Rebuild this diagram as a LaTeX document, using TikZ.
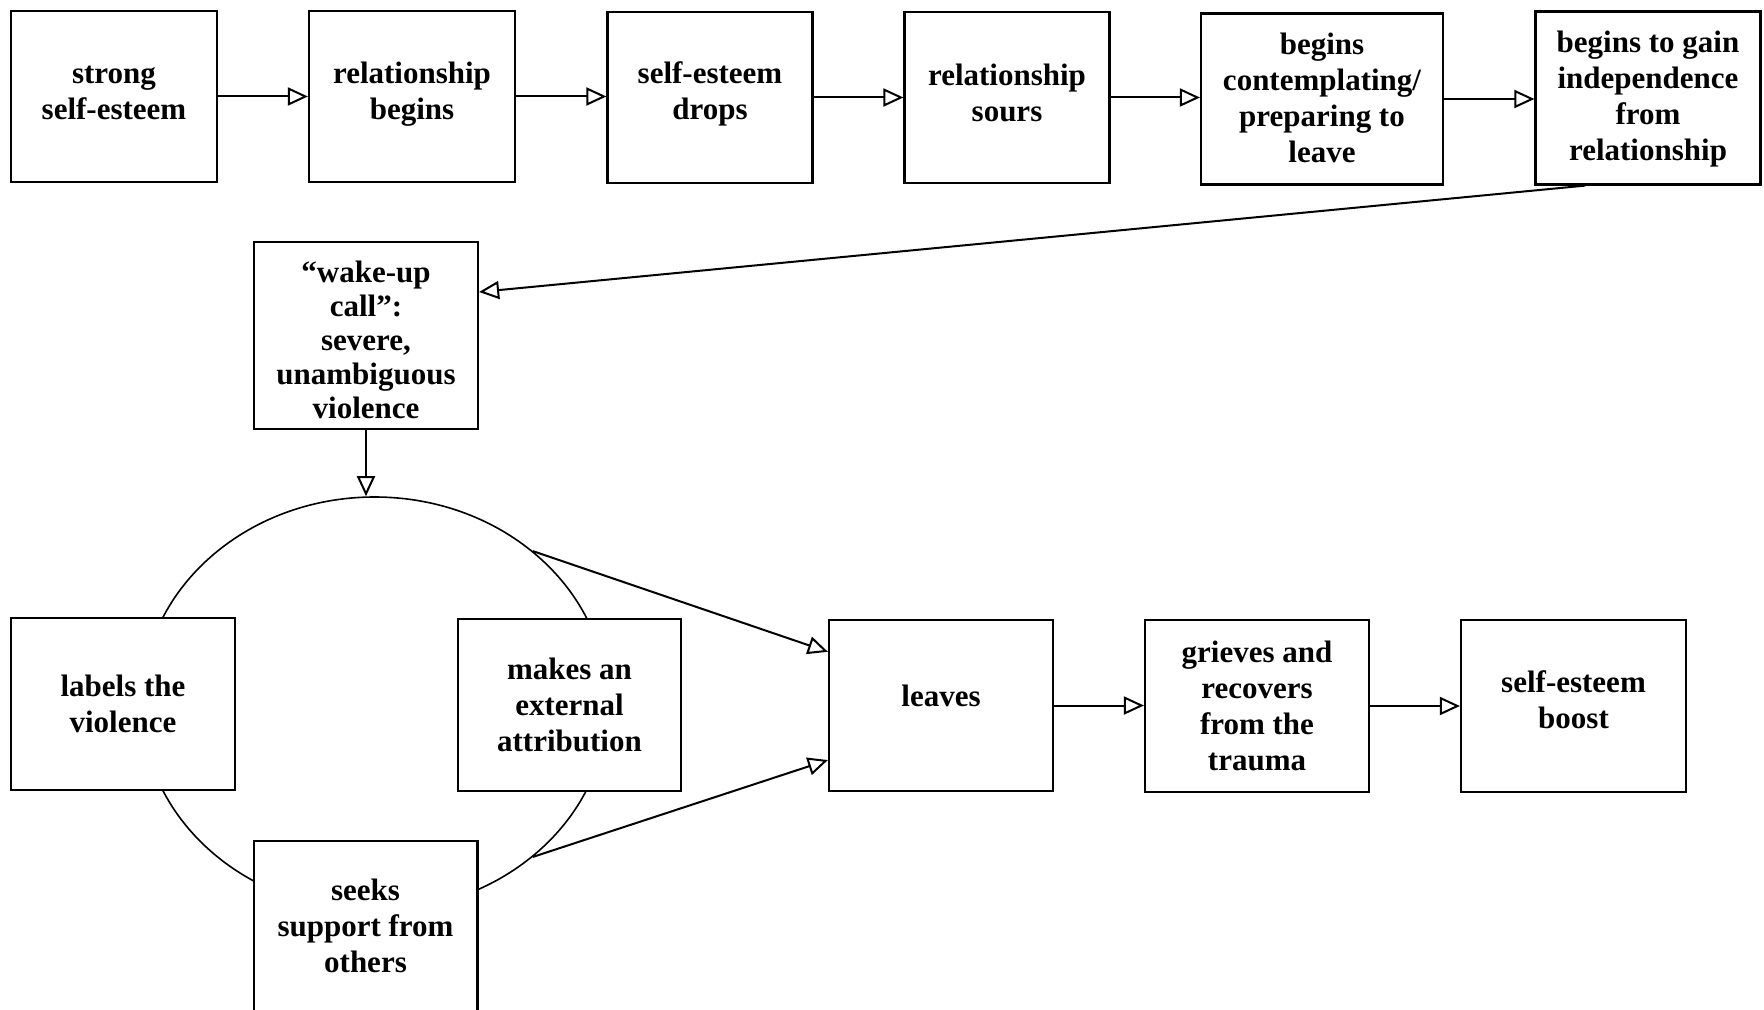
\documentclass[tikz,border=0pt]{standalone}
\usepackage{fontspec}
\setmainfont{Liberation Serif}
\usetikzlibrary{arrows.meta,shapes.geometric,calc}
\begin{document}
\begin{tikzpicture}[x=0.5pt,y=-0.5pt,
  box/.style={draw, line width=1.1pt, fill=white, inner sep=0pt},
  txt/.style={align=center, inner sep=0pt, font=\bfseries\fontsize{15.5}{18}\selectfont},
  wtxt/.style={align=center, inner sep=0pt, font=\bfseries\fontsize{15.5}{17}\selectfont},
  arr/.style={line width=1pt, -{Triangle[open, length=10pt, width=9pt, line width=1pt]}},
  oval/.style={draw, ellipse, line width=0.8pt, inner sep=0pt}]
\useasboundingbox (0,0) rectangle (1764,1010);
% top row
\node[box, minimum width=103pt, minimum height=85.5pt] (b1) at (114,96.5) {};
\node[txt] (t1) at ([yshift=1.7pt]b1.center) {strong\\self-esteem};
\node[box, minimum width=103pt, minimum height=85.5pt] (b2) at (412,96.5) {};
\node[txt] (t2) at ([yshift=1.2pt]b2.center) {relationship\\begins};
\node[box, minimum width=102.5pt, minimum height=85.5pt] (b3) at (710,97.5) {};
\node[txt] (t3) at ([yshift=1.6pt]b3.center) {self-esteem\\drops};
\node[box, minimum width=102.5pt, minimum height=85.5pt] (b4) at (1007,97.5) {};
\node[txt] (t4) at ([yshift=2.5pt]b4.center) {relationship\\sours};
\node[box, minimum width=121pt, minimum height=85.5pt] (b5) at (1322,99) {};
\node[txt] (t5) at ([yshift=0.5pt]b5.center) {begins\\contemplating/\\preparing to\\leave};
\node[box, minimum width=112.5pt, minimum height=86.5pt] (b6) at (1648,98) {};
\node[txt] (t6) at ([yshift=-0.3pt]b6.center) {begins to gain\\independence\\from\\relationship};
\draw[arr] (b1.east) -- (b1.east -| b2.west);
\draw[arr] (b2.east) -- (b2.east -| b3.west);
\draw[arr] (b3.east) -- (b3.east -| b4.west);
\draw[arr] (b4.east) -- (b4.east -| b5.west);
\draw[arr] (b5.east) -- (b5.east -| b6.west);
% wake-up call
\node[box, minimum width=112pt, minimum height=93.5pt] (wake) at (366,335.5) {};
\node[wtxt] (tw) at ([yshift=-2pt]wake.center) {“wake-up\\call”:\\severe,\\unambiguous\\violence};
\draw[arr] ($(b6.south west)!0.224!(b6.south east)$) -- ($(wake.north east)!0.27!(wake.south east)$);
% cycle
\node[oval, minimum width=233pt, minimum height=207pt] (circ) at (374.6,704) {};
\draw[arr] (wake.south) -- (wake.south |- circ.north);
\node[box, minimum width=112pt, minimum height=86pt] (lab) at (123,704) {};
\node[txt] (tl) at (lab.center) {labels the\\violence};
\node[box, minimum width=111.5pt, minimum height=86pt] (mak) at (569.5,705) {};
\node[txt] (tm) at (mak.center) {makes an\\external\\attribution};
\node[fill=white, inner sep=0pt, minimum width=111.5pt, minimum height=86pt] (seek) at (365.5,927) {};
\draw[line width=1.1pt] (seek.south west) -- (seek.north west) -- (seek.north east) -- (seek.south east);
\node[txt] (ts) at (365.5,926) {seeks\\support from\\others};
% right part
\node[box, minimum width=112pt, minimum height=85.5pt] (lv) at (941,705.5) {};
\node[txt] (tlv) at ([yshift=5pt]lv.center) {leaves};
\node[box, minimum width=112pt, minimum height=86pt] (gr) at (1257,706) {};
\node[txt] (tg) at (gr.center) {grieves and\\recovers\\from the\\trauma};
\node[box, minimum width=112.5pt, minimum height=86pt] (bo) at (1573.5,706) {};
\node[txt] (tb) at ([yshift=3pt]bo.center) {self-esteem\\boost};
\draw[arr] (circ.44.5) -- ($(lv.north west)!0.19!(lv.south west)$);
\draw[arr] (circ.-44.5) -- ($(lv.north west)!0.815!(lv.south west)$);
\draw[arr] (lv.east) -- (lv.east -| gr.west);
\draw[arr] (gr.east) -- (gr.east -| bo.west);
\end{tikzpicture}
\end{document}
